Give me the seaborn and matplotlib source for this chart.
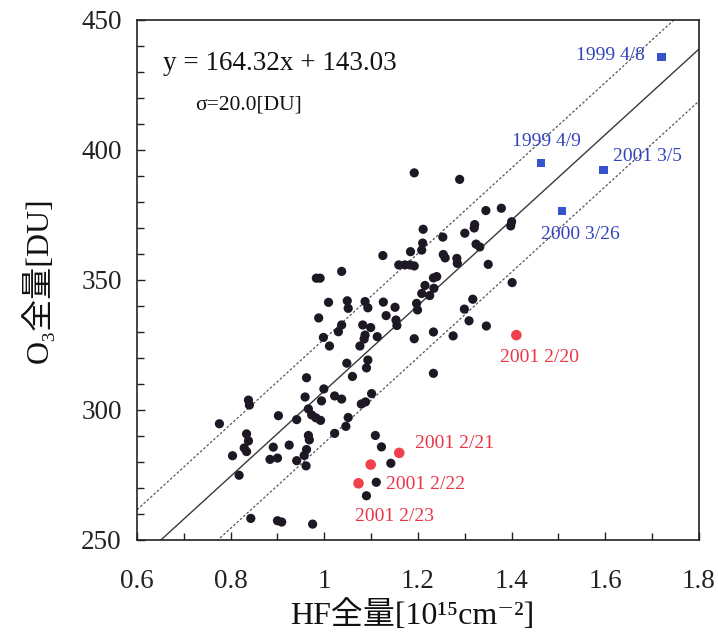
import numpy as np
import pandas as pd
import matplotlib
matplotlib.use("Agg")
import matplotlib.pyplot as plt
import seaborn as sns
from matplotlib.ticker import MultipleLocator, FuncFormatter

# ---- data (HF total column [1e15 cm^-2], O3 total column [DU]) ----
hf_black = [1.192, 1.289, 1.345, 1.378, 1.400, 1.398, 1.321, 1.320, 1.300, 1.211,
            1.253, 1.324, 1.332, 1.210, 1.208, 1.184, 1.125, 1.254, 1.258, 1.283,
            1.284, 1.159, 1.172, 1.183, 1.192, 1.350, 1.240, 1.233, 1.215, 1.208,
            1.225, 1.234, 1.401, 1.087, 1.093, 1.126, 1.151, 1.197, 1.199, 1.132,
            1.153, 1.155, 1.082, 1.099, 1.087, 1.085, 1.076, 1.113, 1.192, 1.233,
            1.275, 1.317, 1.299, 1.309, 1.346, 1.037, 0.983, 0.991, 1.009, 1.049,
            1.051, 0.988, 1.037, 1.030, 0.998, 1.011, 1.048, 1.093, 1.090, 1.060,
            1.233, 0.962, 0.999, 1.022, 1.037, 1.101, 1.079, 1.088, 0.959, 0.994,
            0.838, 0.840, 0.966, 0.973, 0.982, 0.992, 0.902, 0.941, 1.051, 1.046,
            1.022, 0.776, 0.834, 0.838, 0.829, 0.834, 0.891, 0.925, 0.966, 0.968,
            0.962, 0.957, 1.109, 1.122, 0.804, 0.884, 0.900, 0.941, 0.961, 0.818,
            1.142, 1.111, 1.090, 0.843, 0.900, 0.909, 0.975]
o3_black = [391.2, 388.7, 376.7, 377.6, 372.4, 370.8, 371.3, 370.0, 368.0, 369.5,
            366.5, 363.8, 362.7, 364.2, 361.5, 360.9, 359.4, 359.8, 358.5, 358.3,
            356.4, 355.8, 355.8, 355.8, 355.4, 356.0, 351.3, 350.8, 347.9, 344.8,
            344.0, 346.8, 349.0, 341.7, 339.3, 341.5, 339.5, 341.0, 338.5, 336.3,
            334.6, 332.5, 332.7, 331.7, 328.8, 327.3, 324.6, 328.2, 327.4, 330.0,
            328.5, 342.6, 338.8, 334.3, 332.3, 353.3, 350.7, 350.7, 341.4, 342.0,
            339.1, 335.4, 332.7, 330.1, 327.9, 324.6, 318.0, 319.2, 316.2, 312.9,
            314.1, 312.4, 308.1, 305.4, 304.2, 306.3, 302.3, 303.1, 305.0, 303.5,
            303.8, 301.9, 300.4, 298.1, 297.0, 296.0, 297.8, 296.3, 297.1, 293.7,
            291.0, 294.7, 290.8, 288.1, 285.4, 284.0, 285.7, 286.5, 290.2, 288.5,
            284.8, 282.5, 290.2, 285.8, 282.4, 281.0, 281.5, 280.5, 278.5, 274.9,
            279.5, 272.2, 267.0, 258.3, 257.4, 256.9, 256.1]

blue_labels = ["1999 4/8", "1999 4/9", "2001 3/5", "2000 3/26"]
hf_blue = [1.720, 1.462, 1.596, 1.508]
o3_blue = [435.7, 395.1, 392.3, 376.5]

red_labels = ["2001 2/20", "2001 2/21", "2001 2/22", "2001 2/23"]
hf_red = [1.410, 1.160, 1.099, 1.073]
o3_red = [328.8, 283.5, 279.0, 271.8]

slope = 164.32
intercept = 143.03
sigma = 20.0

x_range = [0.6, 1.8]
y_range = [250, 450]

eq_text = "y = 164.32x + 143.03"
sigma_text = "σ=20.0[DU]"
x_label = "HF全量[10¹⁵cm⁻²]"
y_label = "O₃全量[DU]"

# ---- styling ----
sns.set_theme(style="white")
plt.rcParams['font.family'] = ['Liberation Serif', 'Noto Sans CJK JP', 'DejaVu Serif']

fig = plt.figure(figsize=(7.18, 6.41), dpi=100)
ax = fig.add_axes([0.1908, 0.1576, 0.7827, 0.8112])

xs = np.linspace(x_range[0], x_range[1], 200)
fit = pd.DataFrame({"x": xs, "y": slope * xs + intercept,
                    "up": slope * xs + intercept + sigma,
                    "lo": slope * xs + intercept - sigma})
sns.lineplot(data=fit, x="x", y="y", ax=ax, color="#3a3a3a", lw=1.0)
sns.lineplot(data=fit, x="x", y="up", ax=ax, color="#555555", lw=0.9, linestyle=(0, (2, 1.6)))
sns.lineplot(data=fit, x="x", y="lo", ax=ax, color="#555555", lw=0.9, linestyle=(0, (2, 1.6)))

sns.scatterplot(x=hf_black, y=o3_black, ax=ax, color="#1e1824", s=44, edgecolor="none", zorder=3)
sns.scatterplot(x=hf_blue, y=o3_blue, ax=ax, color="#3653cc", marker="s", s=36, edgecolor="none", zorder=3)
sns.scatterplot(x=hf_red, y=o3_red, ax=ax, color="#f0404c", s=58, edgecolor="none", zorder=3)

blue_offsets = [(-12, 1, "right"), (4, 15, "center"), (7, 10, "left"), (13, -17, "center")]
for lab, x, y, (dx, dy, ha) in zip(blue_labels, hf_blue, o3_blue, blue_offsets):
    ax.annotate(lab, (x, y), xytext=(dx, dy), textcoords="offset points",
                ha=ha, va="center", color="#3344bb", fontsize=14)

red_offsets = [(17, -16, "center"), (11.5, 7, "left"), (11, -14, "left"), (25.7, -24, "center")]
for lab, x, y, (dx, dy, ha) in zip(red_labels, hf_red, o3_red, red_offsets):
    ax.annotate(lab, (x, y), xytext=(dx, dy), textcoords="offset points",
                ha=ha, va="center", color="#e83545", fontsize=14)

ax.text(0.046, 0.917, eq_text, transform=ax.transAxes, ha="left", va="center",
        fontsize=19.5, color="#111111")
ax.text(0.103, 0.837, sigma_text, transform=ax.transAxes, ha="left", va="center",
        fontsize=15.5, color="#111111")

ax.set_xlim(*x_range)
ax.set_ylim(*y_range)
ax.xaxis.set_major_locator(MultipleLocator(0.2))
ax.xaxis.set_minor_locator(MultipleLocator(0.1))
ax.yaxis.set_major_locator(MultipleLocator(50))
ax.yaxis.set_minor_locator(MultipleLocator(10))
ax.xaxis.set_major_formatter(FuncFormatter(lambda v, p: f"{v:g}"))
ax.tick_params(axis="both", which="both", direction="in", left=True, bottom=True,
               top=False, right=False, colors="#222222", width=1.0)
ax.tick_params(axis="both", which="major", length=6, labelsize=19.5)
ax.tick_params(axis="x", which="major", pad=21)
ax.tick_params(axis="y", which="major", pad=11)
ax.tick_params(axis="both", which="minor", length=5)
for sp in ax.spines.values():
    sp.set_color("#222222")
    sp.set_linewidth(1.2)

ax.set_xlabel(x_label, fontsize=23, va="center", color="#111111")
ax.set_ylabel(y_label, fontsize=23, va="center", color="#111111")
ax.xaxis.set_label_coords(0.49, -0.145)
ax.yaxis.set_label_coords(-0.176, 0.5)

fig.savefig("out.png", dpi=100)
